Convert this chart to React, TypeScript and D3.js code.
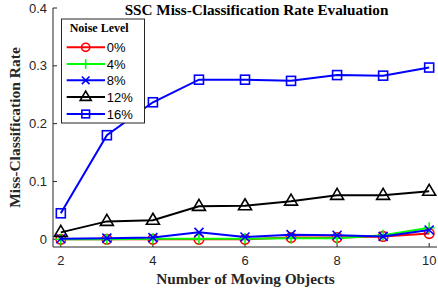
import React from "react";
import * as d3 from "d3";

const xValues = [2, 3, 4, 5, 6, 7, 8, 9, 10];
const noise0 = [0, 0, 0, 0, 0, 0.003, 0.003, 0.005, 0.01];
const noise4 = [0, 0, 0.001, 0.001, 0.001, 0.002, 0.002, 0.007, 0.02];
const noise8 = [0.001, 0.002, 0.003, 0.012, 0.004, 0.008, 0.007, 0.005, 0.016];
const noise12 = [0.012, 0.031, 0.033, 0.057, 0.058, 0.066, 0.076, 0.076, 0.083];
const noise16 = [0.045, 0.18, 0.237, 0.276, 0.276, 0.274, 0.284, 0.283, 0.297];
const seriesLabels = ["0%", "4%", "8%", "12%", "16%"];
const seriesColors = ["#ff0000", "#00ff00", "#0000ff", "#000000", "#0000ff"];
const seriesMarkers = ["circle", "plus", "cross", "triangle", "square"];
const xTicks = [2, 4, 6, 8, 10];
const yTicks = [0, 0.1, 0.2, 0.3, 0.4];

const W = 438, H = 295;
const L = 53, R = 437, T = 8, B = 247;

function Marker({ type, x, y, color, s = 1 }: { type: string; x: number; y: number; color: string; s?: number }) {
  const sw = 1.6;
  if (type === "circle") return <circle cx={x} cy={y} r={4.8 * s} fill="none" stroke={color} strokeWidth={sw} />;
  if (type === "plus")
    return <path d={`M${x - 5.5 * s},${y}H${x + 5.5 * s}M${x},${y - 5.5 * s}V${y + 5.5 * s}`} stroke={color} strokeWidth={sw} fill="none" />;
  if (type === "cross")
    return <path d={`M${x - 4.5 * s},${y - 4.5 * s}L${x + 4.5 * s},${y + 4.5 * s}M${x - 4.5 * s},${y + 4.5 * s}L${x + 4.5 * s},${y - 4.5 * s}`} stroke={color} strokeWidth={sw} fill="none" />;
  if (type === "triangle")
    return <path d={`M${x},${y - 7 * s}L${x + 6.5 * s},${y + 4 * s}L${x - 6.5 * s},${y + 4 * s}Z`} stroke={color} strokeWidth={sw} fill="none" />;
  return <rect x={x - 4.5 * s} y={y - 4.5 * s} width={9 * s} height={9 * s} stroke={color} strokeWidth={sw} fill="none" />;
}

export default function App() {
  const x = d3.scaleLinear().domain([1.83, 10.17]).range([L, R]);
  const y = d3.scaleLinear().domain([-0.0133, 0.4]).range([B, T]);
  const series = [noise0, noise4, noise8, noise12, noise16];
  const line = d3.line<number>().x((_, i) => x(xValues[i])).y((d) => y(d));
  const tickFont = "'Liberation Sans', Arial, sans-serif";
  const serif = "'Liberation Serif', 'Times New Roman', serif";

  const legX = 61.5, legY = 19, legW = 83, legH = 104;
  const legRows = [47.3, 64, 80.3, 97, 114];

  return (
    <svg width={W} height={H} style={{ position: "absolute", left: 0, top: 0 }}>
      <rect width={W} height={H} fill="#fff" />
      {/* axes */}
      <path d={`M${L},${T}V${B}H${R}`} fill="none" stroke="#262626" strokeWidth={1} />
      {yTicks.map((t) => (
        <g key={t}>
          <line x1={L} x2={L + 4} y1={y(t)} y2={y(t)} stroke="#262626" />
          <text x={L - 6} y={y(t)} dy="0.35em" textAnchor="end" fontFamily={tickFont} fontSize={13} fill="#262626">
            {t === 0 ? "0" : String(t)}
          </text>
        </g>
      ))}
      {xTicks.map((t) => (
        <g key={t}>
          <line x1={x(t)} x2={x(t)} y1={B} y2={B - 4} stroke="#262626" />
          <text x={x(t)} y={260} dy="0.35em" textAnchor="middle" fontFamily={tickFont} fontSize={13} fill="#262626">
            {t}
          </text>
        </g>
      ))}
      {/* series */}
      {series.map((s, si) => (
        <g key={si}>
          <path d={line(s) || ""} fill="none" stroke={seriesColors[si]} strokeWidth={2} />
          {s.map((v, i) => (
            <Marker key={i} type={seriesMarkers[si]} x={x(xValues[i])} y={y(v)} color={seriesColors[si]} />
          ))}
        </g>
      ))}
      {/* title and labels */}
      <text x={256.5} y={15} textAnchor="middle" fontFamily={serif} fontWeight="bold" fontSize={15.2} fill="#000">
        SSC Miss-Classification Rate Evaluation
      </text>
      <text x={245.5} y={284} textAnchor="middle" fontFamily={serif} fontWeight="bold" fontSize={15.3} fill="#262626">
        Number of Moving Objects
      </text>
      <text transform={`translate(20,${(T + B) / 2}) rotate(-90)`} textAnchor="middle" fontFamily={serif} fontWeight="bold" fontSize={15.5} fill="#262626">
        Miss-Classification Rate
      </text>
      {/* legend */}
      <rect x={legX} y={legY} width={legW} height={legH} fill="#fff" stroke="#262626" strokeWidth={1} />
      <text x={99.2} y={31.7} textAnchor="middle" fontFamily={serif} fontWeight="bold" fontSize={12} fill="#000">
        Noise Level
      </text>
      {seriesLabels.map((lab, i) => (
        <g key={lab}>
          <line x1={66.7} x2={105} y1={legRows[i]} y2={legRows[i]} stroke={seriesColors[i]} strokeWidth={2} />
          <Marker type={seriesMarkers[i]} x={85.7} y={legRows[i]} color={seriesColors[i]} s={0.85} />
          <text x={106.7} y={legRows[i]} dy="0.35em" fontFamily={tickFont} fontSize={13} fill="#000">
            {lab}
          </text>
        </g>
      ))}
    </svg>
  );
}
